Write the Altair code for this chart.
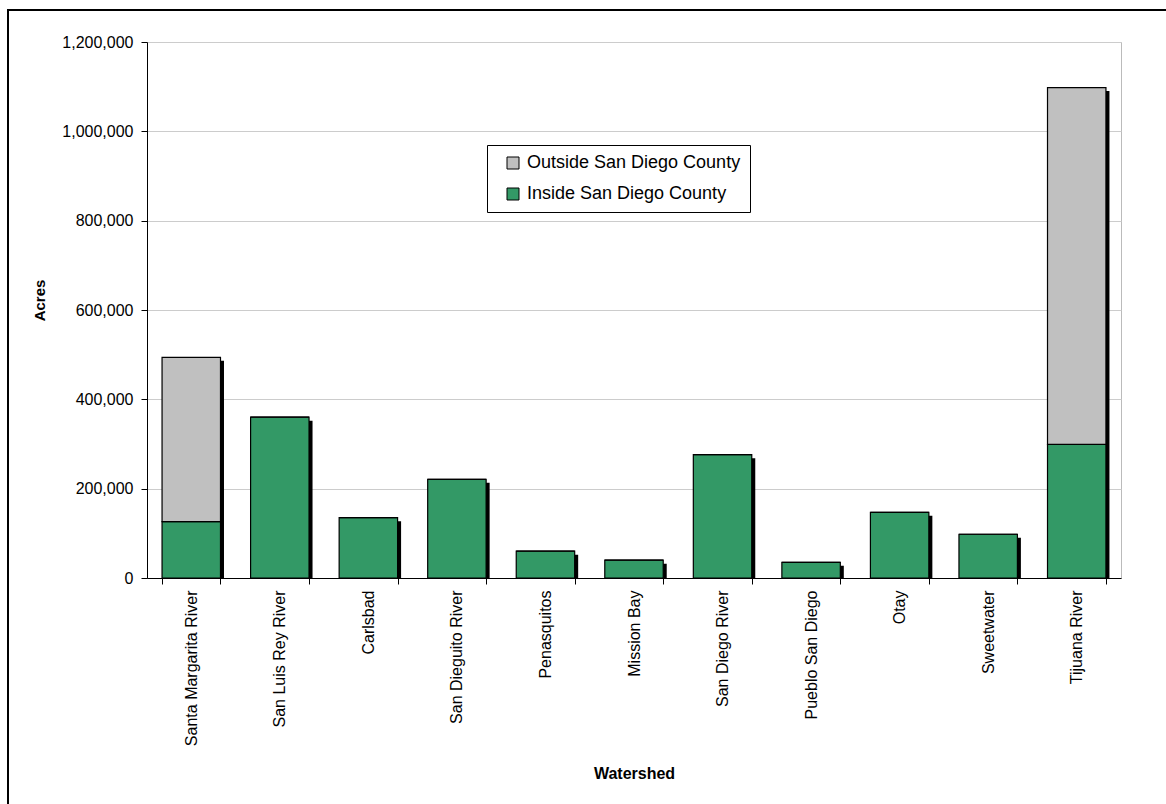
import altair as alt
import pandas as pd

watersheds = ["Santa Margarita River", "San Luis Rey River", "Carlsbad", "San Dieguito River",
              "Penasquitos", "Mission Bay", "San Diego River", "Pueblo San Diego", "Otay",
              "Sweetwater", "Tijuana River"]
inside = [126000, 360000, 135000, 221000, 60000, 40000, 276000, 35000, 147000, 98000, 299000]
outside = [368000, 0, 0, 0, 0, 0, 0, 0, 0, 0, 799000]
series = ["Outside San Diego County", "Inside San Diego County"]
colors = ["#C0C0C0", "#339966"]
y_ticks = [0, 200000, 400000, 600000, 800000, 1000000, 1200000]

rows = []
for w, i, o in zip(watersheds, inside, outside):
    rows.append({"Watershed": w, "Series": series[1], "Acres": i, "ord": 0})
    rows.append({"Watershed": w, "Series": series[0], "Acres": o, "ord": 1})
df = pd.DataFrame(rows)

FONT = "Liberation Sans"

xenc = alt.X("Watershed:N", sort=watersheds,
             scale=alt.Scale(paddingInner=0.34, paddingOuter=0.17),
             axis=alt.Axis(title="Watershed", labelAngle=270, tickBand="extent",
                           tickSize=6, labelPadding=6, domainColor="black", tickColor="black",
                           labelColor="black", labelFontSize=16, labelFont=FONT,
                           titleFont=FONT, titleFontSize=16, titleFontWeight="bold",
                           titleColor="black", titleY=200, titleBaseline="alphabetic",
                           grid=False, labelLimit=300))

yscale = alt.Scale(domain=[0, 1200000], nice=False)
yaxis = alt.Axis(title="Acres", values=y_ticks, format=",.0f", tickSize=6, labelPadding=8,
                 domainColor="black", tickColor="black", labelColor="black",
                 labelFontSize=16, labelFont=FONT, titleFont=FONT, titleFontSize=15,
                 titleFontWeight="bold", titleColor="black", titleX=-100, titleY=258,
                 grid=True, gridColor="#cccccc", gridWidth=1)

base = alt.Chart(df)

shadow = base.mark_bar(color="black", xOffset=3.5, yOffset=3.5).encode(
    x=xenc,
    y=alt.Y("sum(Acres):Q", stack=None, scale=yscale, axis=yaxis),
)

bars = base.mark_bar(stroke="black", strokeWidth=1.2).encode(
    x=xenc,
    y=alt.Y("Acres:Q", stack="zero", scale=yscale, axis=yaxis),
    color=alt.Color("Series:N", scale=alt.Scale(domain=series, range=colors),
                    legend=alt.Legend(title=None, orient="none", legendX=340, legendY=103,
                                      strokeColor="black", fillColor="white", padding=9,
                                      rowPadding=13, labelFontSize=18, labelFont=FONT,
                                      labelColor="black", labelLimit=500,
                                      symbolSize=144, symbolType="square",
                                      symbolOffset=8, labelOffset=5,
                                      symbolStrokeColor="black", symbolStrokeWidth=1)),
    order=alt.Order("ord:Q"),
)

one = alt.Chart(pd.DataFrame({"a": [0]}))
left_border = one.mark_rule(color="black", strokeWidth=2).encode(
    x=alt.value(-139), y=alt.value(-33), y2=alt.value(762))
top_border = one.mark_rule(color="black", strokeWidth=2).encode(
    x=alt.value(-140), x2=alt.value(1019), y=alt.value(-32))

chart = alt.layer(shadow, bars, left_border, top_border).properties(
    width=974, height=536,
    autosize=alt.AutoSizeParams(type="none"),
    padding={"left": 147, "top": 42, "right": 45, "bottom": 226},
    background="white",
).configure_view(stroke="#bbbbbb", strokeWidth=1)

chart.save("out.html", embed_options={"renderer": "svg", "actions": False})
